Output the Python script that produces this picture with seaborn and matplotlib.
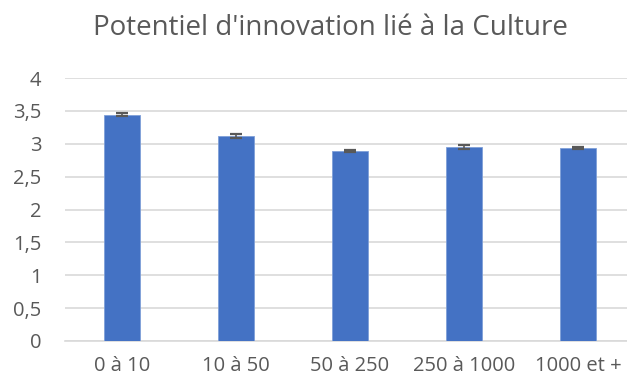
import matplotlib
matplotlib.use("Agg")
import matplotlib.pyplot as plt
import matplotlib.ticker as mticker
import seaborn as sns
import pandas as pd

categories = ["0 à 10", "10 à 50", "50 à 250", "250 à 1000", "1000 et +"]
values = [3.44, 3.12, 2.89, 2.95, 2.93]
errors = [0.022, 0.025, 0.018, 0.025, 0.015]
yticks = [0, 0.5, 1, 1.5, 2, 2.5, 3, 3.5, 4]

sns.set_theme(style="white")
plt.rcParams["font.family"] = ["Open Sans", "DejaVu Sans"]

text_color = "#595959"
grid_color = "#D9D9D9"
bar_color = "#4472C4"

df = pd.DataFrame({"taille": categories, "score": values})

fig = plt.figure(figsize=(6.27, 3.79), dpi=100)
ax = fig.add_axes([65 / 627, 38 / 379, 570 / 627, 263 / 379])

sns.barplot(data=df, x="taille", y="score", color=bar_color, width=0.316,
            saturation=1, edgecolor="#7F9FD8", linewidth=0.6, ax=ax, zorder=3)
ax.errorbar(range(len(values)), values, yerr=errors, fmt="none",
            ecolor="#595959", elinewidth=1.2, capsize=4, capthick=1.6, zorder=4)

ax.set_ylim(0, 4)
ax.set_xlim(-0.5, len(categories) - 0.5)
ax.set_yticks(yticks)
ax.yaxis.set_major_formatter(mticker.FuncFormatter(
    lambda v, _: (f"{v:g}").replace(".", ",")))
ax.grid(axis="y", color=grid_color, linewidth=1.2, zorder=0)
ax.set_axisbelow(True)
for s in ["top", "right", "left"]:
    ax.spines[s].set_visible(False)
ax.spines["bottom"].set_color(grid_color)
ax.spines["bottom"].set_linewidth(1.2)
ax.tick_params(axis="both", length=0, labelsize=14.5, colors=text_color)
ax.tick_params(axis="y", pad=17)
ax.tick_params(axis="x", pad=11)
ax.set_xlabel("")
ax.set_ylabel("")

fig.text(330 / 627, 1 - 28 / 379, "Potentiel d'innovation lié à la Culture",
         ha="center", va="center", fontsize=20, color=text_color)

fig.savefig("out.png", dpi=100)
